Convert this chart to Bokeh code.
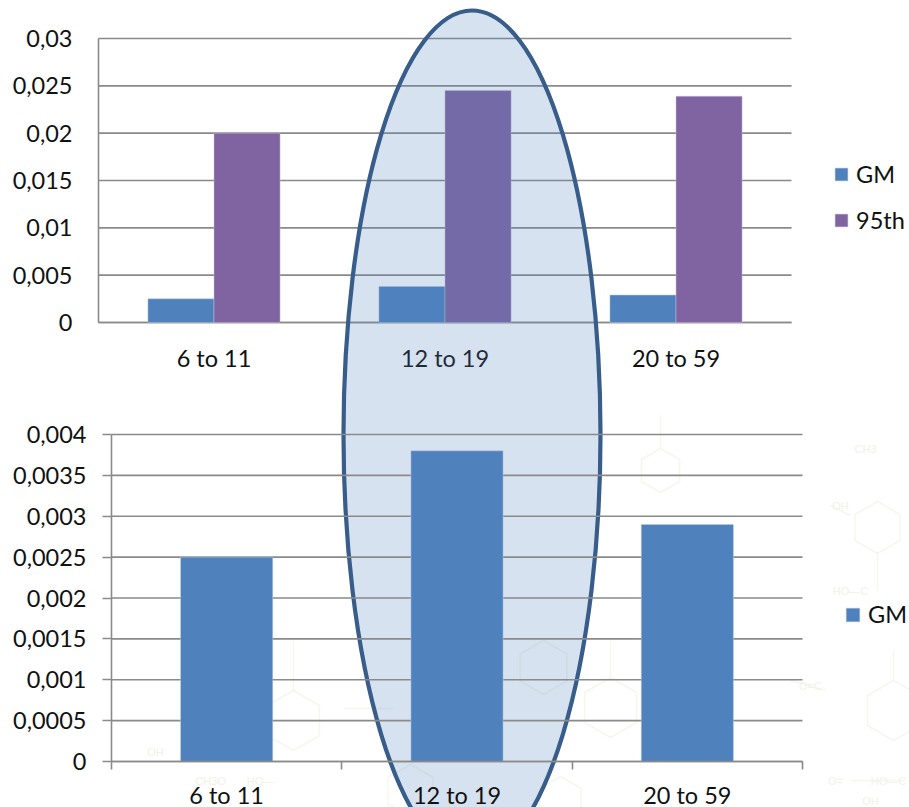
from math import cos, sin, pi

from bokeh.core.properties import value
from bokeh.embed import file_html
from bokeh.models import ColumnDataSource, FixedTicker, Legend, LegendItem, LinearAxis, Range1d
from bokeh.plotting import figure
from bokeh.resources import INLINE

# Values by age group
age_groups = ["6 to 11", "12 to 19", "20 to 59"]
gm_values = [0.0025, 0.0038, 0.0029]
p95_values = [0.02, 0.0245, 0.0239]

upper_ticks = [0, 0.005, 0.01, 0.015, 0.02, 0.025, 0.03]
upper_tick_labels = ["0", "0,005", "0,01", "0,015", "0,02", "0,025", "0,03"]
lower_ticks = [0, 0.0005, 0.001, 0.0015, 0.002, 0.0025, 0.003, 0.0035, 0.004]
lower_tick_labels = ["0", "0,0005", "0,001", "0,0015", "0,002", "0,0025", "0,003", "0,0035", "0,004"]

W, H = 909, 807
FONT = "Lato"
FONT_SIZE = "23.5px"
BLUE, PURPLE = "#4f81bd", "#8064a2"
AXIS_GREY = "#8a8a8a"
INK = "#111111"

p = figure(width=W, height=H, x_range=Range1d(0, W), y_range=Range1d(H, 0),
           x_axis_type=None, y_axis_type=None, toolbar_location=None,
           output_backend="svg", min_border=0, outline_line_color=None)
p.grid.visible = False


def x_frame_range(px0, v0, px1, v1):
    """Horizontal range over the whole frame, given two pixel/value anchors."""
    k = (v1 - v0) / (px1 - px0)
    return Range1d(start=v0 - px0 * k, end=v0 + (W - px0) * k)


def y_frame_range(px0, v0, px1, v1):
    """Vertical range over the whole frame; its start belongs to the frame's bottom edge."""
    k = (v1 - v0) / (px1 - px0)
    return Range1d(start=v0 + (H - px0) * k, end=v0 - px0 * k)


# Each chart owns a pair of ranges, laid out inside one shared frame
p.extra_x_ranges = {"upper_x": x_frame_range(98, 0, 791, 3),
                    "lower_x": x_frame_range(111, 0, 802, 3)}
p.extra_y_ranges = {"upper_y": y_frame_range(322, 0, 38, 0.03),
                    "lower_y": y_frame_range(761, 0, 434, 0.004)}

# Faint molecular watermark behind everything
rings = [(877, 527, 26), (893, 710, 30), (610, 707, 30), (543, 667, 27), (293, 720, 30),
         (660, 470, 22), (410, 790, 26), (560, 800, 24)]
ring_xs = [[cx + r * cos(pi / 6 + i * pi / 3) for i in range(7)] for cx, cy, r in rings]
ring_ys = [[cy + r * sin(pi / 6 + i * pi / 3) for i in range(7)] for cx, cy, r in rings]
bond_xs = [[877, 877], [893, 893], [610, 610], [293, 293], [850, 830], [825, 790], [343, 393],
           [660, 660], [905, 850]]
bond_ys = [[553, 590], [680, 650], [677, 640], [690, 640], [515, 505], [690, 680], [708, 708],
           [448, 415], [780, 780]]
p.multi_line(ring_xs + bond_xs, ring_ys + bond_ys, line_color="#f5f7ef", line_width=1.5, level="image")
mark_x = [865, 840, 850, 810, 155, 210, 260, 835, 888, 870]
mark_y = [448, 505, 590, 685, 751, 780, 780, 780, 780, 800]
mark_t = ["CH3", "OH", "HO—C", "O=C", "OH", "CH3O", "HO—", "O=", "HO—C", "OH"]
p.text(mark_x, mark_y, mark_t, text_color="#eff3e4", text_font=value("Liberation Sans"),
       text_font_size="11px", text_align="center", text_baseline="middle", level="image")


def chart_grid(ticks, x_end, x_range_name, y_range_name):
    src = ColumnDataSource(dict(x0=[0] * len(ticks), x1=[x_end] * len(ticks), y=ticks))
    p.segment("x0", "y", "x1", "y", source=src, line_color=AXIS_GREY, line_width=1.6,
              x_range_name=x_range_name, y_range_name=y_range_name)


def chart_axes(ticks, labels, x_range_name, y_range_name, tick_out, y_standoff, x_standoff, x_ticker):
    y_axis = LinearAxis(x_range_name=x_range_name, y_range_name=y_range_name,
                        fixed_location=0, bounds=(min(ticks), max(ticks)),
                        ticker=FixedTicker(ticks=ticks),
                        major_label_overrides=dict(zip(ticks, labels)),
                        major_tick_out=tick_out, major_tick_in=0, minor_tick_out=0, minor_tick_in=0,
                        major_tick_line_color=AXIS_GREY, major_tick_line_width=1.6,
                        axis_line_color=AXIS_GREY, axis_line_width=1.6,
                        major_label_standoff=y_standoff, major_label_text_font=FONT,
                        major_label_text_font_size=FONT_SIZE, major_label_text_color=INK)
    x_axis = LinearAxis(x_range_name=x_range_name, y_range_name=y_range_name,
                        fixed_location=0, bounds=(0, 3), ticker=x_ticker,
                        major_label_overrides=dict(zip(x_ticker.ticks, age_groups)),
                        major_tick_out=0, major_tick_in=0,
                        minor_tick_out=8 if x_ticker.minor_ticks else 0, minor_tick_in=0,
                        minor_tick_line_color=AXIS_GREY, minor_tick_line_width=1.6,
                        axis_line_color=AXIS_GREY, axis_line_width=1.6,
                        major_label_standoff=x_standoff, major_label_text_font=FONT,
                        major_label_text_font_size=FONT_SIZE, major_label_text_color=INK)
    p.add_layout(y_axis, "left")
    p.add_layout(x_axis, "below")
    return x_axis, y_axis


centers = [i + 0.5 for i in range(len(age_groups))]

# Upper chart: GM and 95th side by side
chart_grid(upper_ticks, 3, "upper_x", "upper_y")
upper_gm = p.vbar([c - 0.143 for c in centers], top=gm_values, bottom=0, width=0.286,
                  fill_color=BLUE, line_color="#b9cde5", line_width=0.5,
                  x_range_name="upper_x", y_range_name="upper_y")
upper_95 = p.vbar([c + 0.143 for c in centers], top=p95_values, bottom=0, width=0.286,
                  fill_color=PURPLE, line_color="#c9bdd9", line_width=0.5,
                  x_range_name="upper_x", y_range_name="upper_y")
upper_axes = chart_axes(upper_ticks, upper_tick_labels, "upper_x", "upper_y", 0, 26, 21,
                        FixedTicker(ticks=centers))
for ax in upper_axes:
    ax.level = "underlay"

# Highlight around the 12 to 19 group, laid over the upper chart
p.ellipse(x=471.5, y=434, width=257, height=848, fill_color=BLUE, fill_alpha=0.23,
          line_color="#385d8a", line_width=4.2)

# Lower chart: GM alone, in front of the highlight
chart_grid(lower_ticks, 3, "lower_x", "lower_y")
lower_gm = p.vbar(centers, top=gm_values, bottom=0, width=0.4, fill_color=BLUE,
                  line_color="#b9cde5", line_width=0.5,
                  x_range_name="lower_x", y_range_name="lower_y")
chart_axes(lower_ticks, lower_tick_labels, "lower_x", "lower_y", 9, 16, 11,
           FixedTicker(ticks=centers, minor_ticks=[0, 1, 2, 3]))


def add_legend(items, x, y, box, spacing):
    legend = Legend(items=items, location=(x, H - y), glyph_width=box, glyph_height=box,
                    label_standoff=7, spacing=spacing, padding=0, margin=0,
                    background_fill_alpha=0, border_line_color=None,
                    label_text_font=FONT, label_text_font_size=FONT_SIZE, label_text_color=INK,
                    label_height=box, label_width=20)
    p.add_layout(legend, "center")


add_legend([LegendItem(label="GM", renderers=[upper_gm]),
            LegendItem(label="95th", renderers=[upper_95])], 833, 234, 16, 18)
add_legend([LegendItem(label="GM", renderers=[lower_gm])], 844, 628, 17, 0)

open("out.html", "w").write(file_html(p, INLINE))
